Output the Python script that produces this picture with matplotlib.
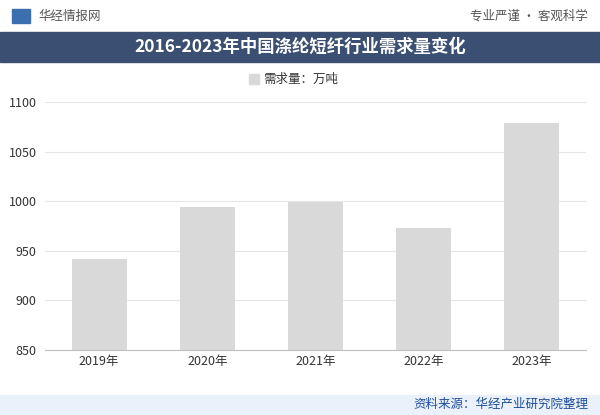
import matplotlib
matplotlib.use("Agg")
import matplotlib.pyplot as plt
from matplotlib.patches import Rectangle

plt.rcParams['font.family'] = ['Noto Sans CJK SC', 'DejaVu Sans']

years = ["2019年", "2020年", "2021年", "2022年", "2023年"]
demand = [942, 994, 999, 973, 1079]
yticks = [850, 900, 950, 1000, 1050, 1100]

W, H = 600, 415
fig = plt.figure(figsize=(W/100, H/100), dpi=100)
fig.patch.set_facecolor("white")

def fx(x): return x / W
def fy(y): return 1 - y / H

# header
fig.text(fx(38), fy(16), "华经情报网", fontsize=9, color="#555555", va="center")
fig.add_artist(Rectangle((fx(12), fy(23)), fx(18), 14/H, transform=fig.transFigure, color="#3b6fb0"))
fig.text(fx(588), fy(16), "专业严谨 • 客观科学", fontsize=9, color="#555555", va="center", ha="right")
fig.add_artist(Rectangle((0, fy(62)), 1, 30/H, transform=fig.transFigure, color="#3a4f72"))
fig.text(0.5, fy(47), "2016-2023年中国涤纶短纤行业需求量变化", fontsize=12.5, color="white",
         va="center", ha="center", fontweight="bold")

# legend
fig.add_artist(Rectangle((fx(249), fy(84)), 10/W, 10/H, transform=fig.transFigure, color="#d9d9d9"))
fig.text(fx(263), fy(79), "需求量：万吨", fontsize=9, color="#333333", va="center")

ax = fig.add_axes([fx(45), fy(350), fx(586) - fx(45), (350 - 102)/H])
ax.bar(years, demand, width=0.51, color="#d9d9d9")
ax.set_xlim(-0.5, 4.5)
ax.set_ylim(850, 1100)
ax.set_yticks(yticks)
ax.yaxis.grid(True, color="#e6e6e6", linewidth=0.8)
ax.set_axisbelow(True)
for s in ["top", "right", "left"]:
    ax.spines[s].set_visible(False)
ax.spines["bottom"].set_color("#bfbfbf")
ax.tick_params(axis="both", length=0, labelsize=9, colors="#333333")
ax.tick_params(axis="y", pad=6)

# footer
fig.add_artist(Rectangle((0, 0), 1, 20/H, transform=fig.transFigure, color="#eaf1fa"))
fig.text(fx(588), fy(404), "资料来源：华经产业研究院整理", fontsize=9, color="#1f4e9a", va="center", ha="right")

fig.savefig("out.png", dpi=100)
